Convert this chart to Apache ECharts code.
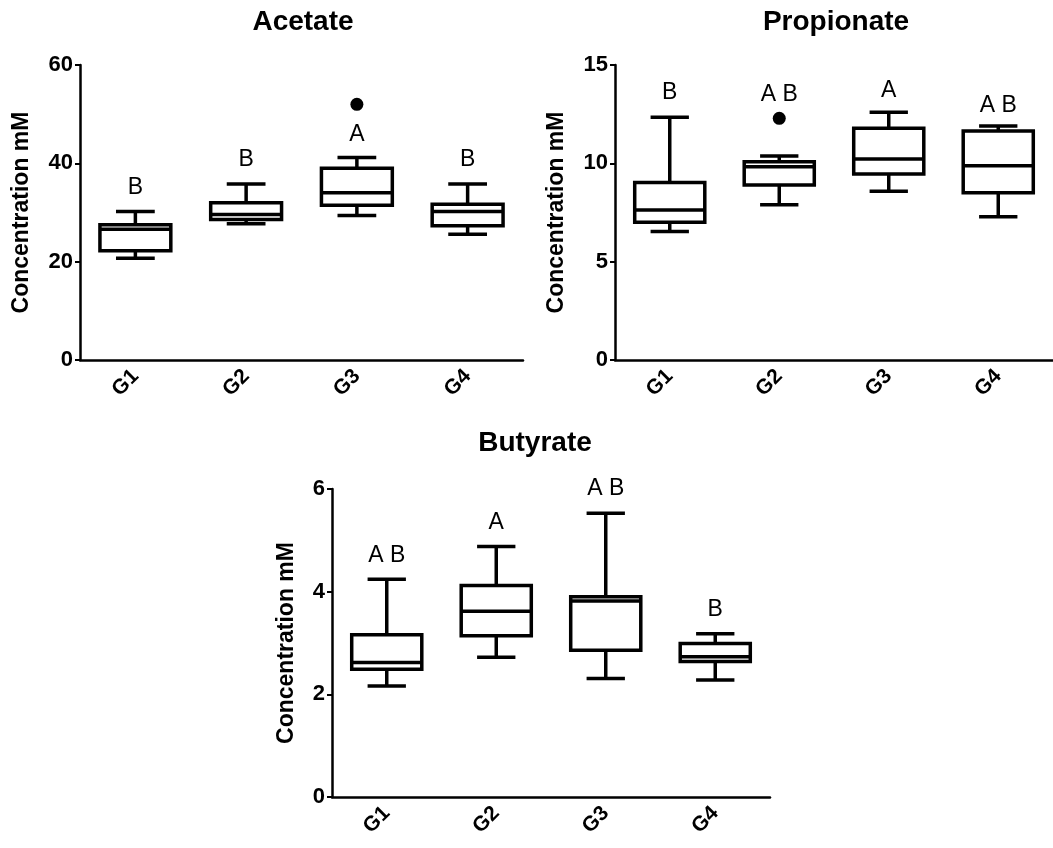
<!DOCTYPE html>
<html>
<head>
<meta charset="utf-8">
<script src="https://cdn.jsdelivr.net/npm/echarts@6/dist/echarts.min.js"></script>
<style>
  html, body { margin: 0; padding: 0; background: #fff; }
  #chart { width: 1053px; height: 848px; }
</style>
</head>
<body>
<div id="chart"></div>
<script>
// groups on the x axis
var groups = ['G1', 'G2', 'G3', 'G4'];

// box values per group: [min, Q1, median, Q3, max]
var acetateBox = [
  [20.7, 22.2, 26.6, 27.5, 30.2],
  [27.7, 28.6, 29.6, 32.0, 35.8],
  [29.4, 31.5, 34.0, 39.0, 41.2],
  [25.6, 27.3, 30.2, 31.7, 35.8]
];
var propionateBox = [
  [6.53, 7.0, 7.63, 9.02, 12.34],
  [7.9, 8.9, 9.83, 10.08, 10.37],
  [8.58, 9.46, 10.22, 11.78, 12.6],
  [7.29, 8.5, 9.88, 11.64, 11.9]
];
var butyrateBox = [
  [2.16, 2.49, 2.62, 3.16, 4.24],
  [2.72, 3.14, 3.62, 4.12, 4.88],
  [2.31, 2.86, 3.82, 3.9, 5.53],
  [2.28, 2.64, 2.73, 2.99, 3.18]
];

// outliers: [group index, value]
var acetateOutliers = [[2, 52.0]];
var propionateOutliers = [[1, 12.29]];
var butyrateOutliers = [];

// significance letters and the height they sit at
var acetateLetters = ['B', 'B', 'A', 'B'];
var acetateLetterY = [35.0, 40.7, 45.9, 40.7];
var propionateLetters = ['B', 'A B', 'A', 'A B'];
var propionateLetterY = [13.58, 13.47, 13.7, 12.95];
var butyrateLetters = ['A B', 'A', 'A B', 'B'];
var butyrateLetterY = [4.70, 5.35, 6.01, 3.65];

var FONT = '"Liberation Sans", Arial, Helvetica, sans-serif';

var myChart = echarts.init(document.getElementById('chart'));

function renderBox(params, api) {
  var i = api.value(0);
  var lo = api.coord([i, api.value(1)]);
  var q1 = api.coord([i, api.value(2)]);
  var med = api.coord([i, api.value(3)]);
  var q3 = api.coord([i, api.value(4)]);
  var hi = api.coord([i, api.value(5)]);
  var band = api.size([1, 0])[0];
  var bw = band * 0.64, cw = band * 0.35;
  var x = lo[0];
  var st = { stroke: '#000', lineWidth: 3.5, fill: 'none' };
  return {
    type: 'group',
    children: [
      { type: 'line', shape: { x1: x, y1: hi[1], x2: x, y2: q3[1] }, style: st },
      { type: 'line', shape: { x1: x, y1: lo[1], x2: x, y2: q1[1] }, style: st },
      { type: 'line', shape: { x1: x - cw / 2, y1: hi[1], x2: x + cw / 2, y2: hi[1] }, style: st },
      { type: 'line', shape: { x1: x - cw / 2, y1: lo[1], x2: x + cw / 2, y2: lo[1] }, style: st },
      { type: 'rect', shape: { x: x - bw / 2, y: q3[1], width: bw, height: q1[1] - q3[1] },
        style: { stroke: '#000', lineWidth: 3.5, fill: '#fff' } },
      { type: 'line', shape: { x1: x - bw / 2, y1: med[1], x2: x + bw / 2, y2: med[1] }, style: st }
    ]
  };
}

function boxData(box) {
  return box.map(function (b, i) { return [i].concat(b); });
}
function letterData(letters, ys) {
  return letters.map(function (l, i) { return [i, ys[i], l]; });
}

function xAxis(idx) {
  return {
    gridIndex: idx, type: 'category', data: groups, boundaryGap: true,
    axisLine: { lineStyle: { color: '#000', width: 2.5 } },
    axisTick: { alignWithLabel: true, length: 5, lineStyle: { color: '#000', width: 2 } },
    axisLabel: { rotate: 45, margin: 13, color: '#000', fontSize: 21, fontWeight: 'bold', fontFamily: FONT }
  };
}
function yAxis(idx, max, interval, gap) {
  return {
    gridIndex: idx, type: 'value', min: 0, max: max, interval: interval,
    name: 'Concentration mM', nameLocation: 'middle', nameGap: gap, nameRotate: 90,
    nameTextStyle: { color: '#000', fontSize: 23, fontWeight: 'bold', fontFamily: FONT },
    axisLine: { show: true, lineStyle: { color: '#000', width: 2.5 } },
    axisTick: { show: true, length: 5, lineStyle: { color: '#000', width: 2 } },
    axisLabel: { margin: 7, color: '#000', fontSize: 22, fontWeight: 'bold', fontFamily: FONT },
    splitLine: { show: false }
  };
}

var panels = [
  { box: acetateBox, out: acetateOutliers, letters: acetateLetters, ly: acetateLetterY },
  { box: propionateBox, out: propionateOutliers, letters: propionateLetters, ly: propionateLetterY },
  { box: butyrateBox, out: butyrateOutliers, letters: butyrateLetters, ly: butyrateLetterY }
];

var series = [];
panels.forEach(function (p, k) {
  series.push({
    type: 'custom', xAxisIndex: k, yAxisIndex: k,
    renderItem: renderBox, data: boxData(p.box), silent: true
  });
  series.push({
    type: 'scatter', xAxisIndex: k, yAxisIndex: k,
    symbol: 'circle', symbolSize: 13, itemStyle: { color: '#000', opacity: 1 },
    data: p.out
  });
  series.push({
    type: 'scatter', xAxisIndex: k, yAxisIndex: k, clip: false,
    symbolSize: 0, itemStyle: { color: '#000', opacity: 1 },
    data: letterData(p.letters, p.ly),
    label: {
      show: true, position: 'inside', color: '#000', opacity: 1, fontSize: 23, fontFamily: FONT,
      formatter: function (d) { return d.value[2]; }
    }
  });
});

var option = {
  animation: false,
  backgroundColor: '#fff',
  grid: [
    { left: 80, top: 65, width: 443, height: 295 },
    { left: 615, top: 65, width: 438, height: 295 },
    { left: 332, top: 489, width: 438, height: 308 }
  ],
  xAxis: [xAxis(0), xAxis(1), xAxis(2)],
  yAxis: [yAxis(0, 60, 20, 47), yAxis(1, 15, 5, 47), yAxis(2, 6, 2, 34)],
  graphic: [
    { type: 'text', x: 303, y: 22, style: { text: 'Acetate', align: 'center', verticalAlign: 'middle', font: 'bold 28px ' + FONT, fill: '#000' } },
    { type: 'text', x: 836, y: 22, style: { text: 'Propionate', align: 'center', verticalAlign: 'middle', font: 'bold 28px ' + FONT, fill: '#000' } },
    { type: 'text', x: 535, y: 443, style: { text: 'Butyrate', align: 'center', verticalAlign: 'middle', font: 'bold 28px ' + FONT, fill: '#000' } }
  ],
  series: series
};

myChart.setOption(option);
</script>
</body>
</html>
